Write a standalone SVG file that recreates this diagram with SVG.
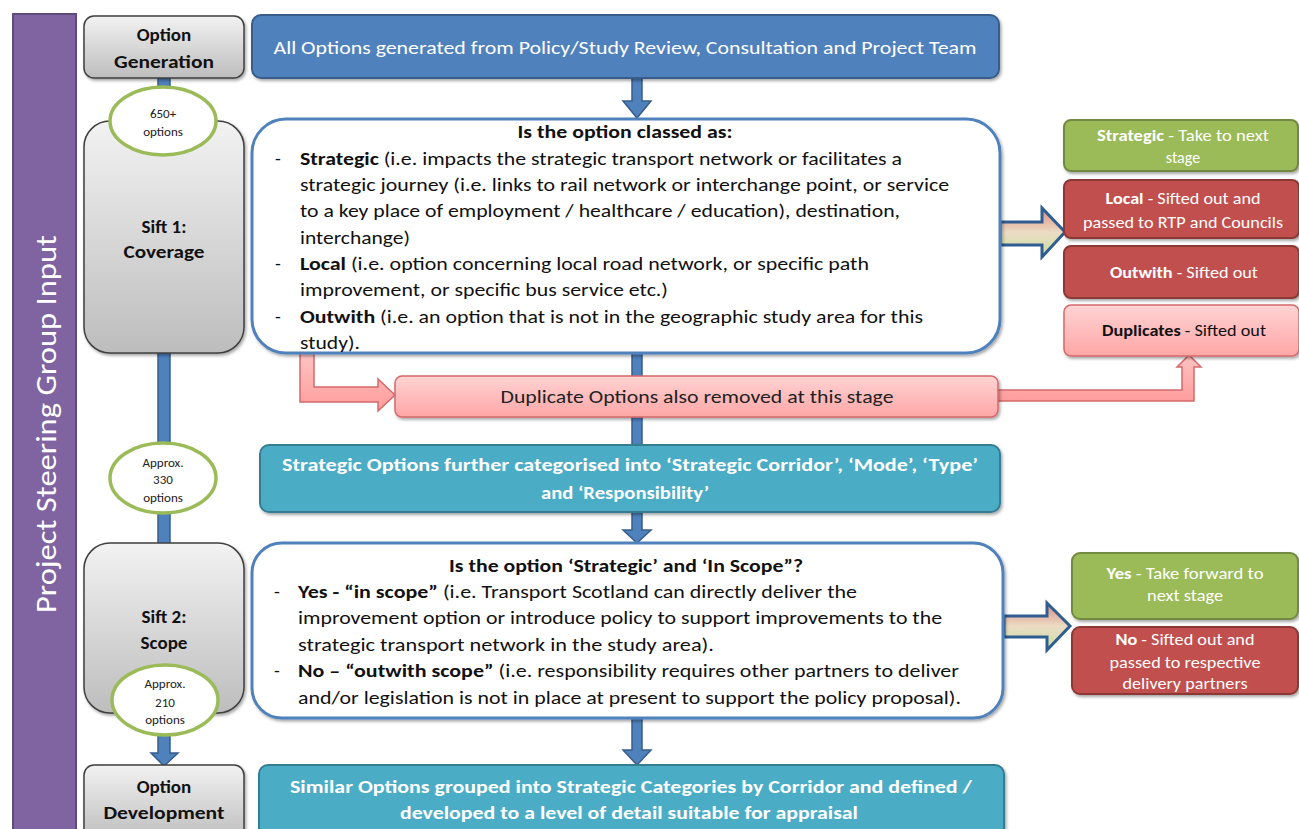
<svg xmlns="http://www.w3.org/2000/svg" width="1299" height="829" viewBox="0 0 1299 829">
<defs>
<linearGradient id="gGray" x1="0" y1="0" x2="0" y2="1"><stop offset="0" stop-color="#f2f2f2"/><stop offset="1" stop-color="#bdbdbd"/></linearGradient>
<linearGradient id="gPink" x1="0" y1="0" x2="0" y2="1"><stop offset="0" stop-color="#ffd3d3"/><stop offset="1" stop-color="#ffa6a6"/></linearGradient>
<linearGradient id="gPinkArrow" x1="0" y1="0" x2="0" y2="1"><stop offset="0" stop-color="#ffc4c4"/><stop offset="1" stop-color="#ff9c9c"/></linearGradient>
<linearGradient id="gFat" x1="0" y1="0" x2="0" y2="1"><stop offset="0" stop-color="#d98a82"/><stop offset="0.5" stop-color="#ecdcc4"/><stop offset="1" stop-color="#c7df9f"/></linearGradient>
<filter id="sh" x="-10%" y="-10%" width="120%" height="130%"><feDropShadow dx="1.5" dy="2" stdDeviation="1.5" flood-color="#000" flood-opacity="0.35"/></filter>
</defs>
<style>
text{font-family:Carlito,Lato,"Liberation Sans",sans-serif;}
.gray{fill:url(#gGray);stroke:#3f3f3f;stroke-width:1.5;filter:url(#sh);}
.lbl{font-size:19px;font-weight:bold;fill:#111;text-anchor:middle;}
.oval{fill:#fff;stroke:#9bbb59;stroke-width:3.5;}
.otxt{font-size:13px;fill:#222;text-anchor:middle;}
.main{fill:#fff;stroke:#4f81bd;stroke-width:3;filter:url(#sh);}
.mt{font-size:19px;fill:#111;}
.b{font-weight:bold;}
.blue{fill:#4f81bd;stroke:#385d8a;stroke-width:1.5;}
.teal{fill:#4bacc6;stroke:#357d91;stroke-width:2;filter:url(#sh);}
.tt{font-size:19px;font-weight:bold;fill:#fff;text-anchor:middle;}
.green{fill:#9bbb59;stroke:#71893f;stroke-width:2;filter:url(#sh);}
.red{fill:#c0504d;stroke:#8c3836;stroke-width:2;filter:url(#sh);}
.rt{font-size:16px;fill:#fff;text-anchor:middle;}
.fat{fill:url(#gFat);stroke:#2f5d8f;stroke-width:3;stroke-linejoin:miter;}
.pinkarrow{fill:url(#gPinkArrow);stroke:#d46a6a;stroke-width:1.5;}
</style>
<rect width="1299" height="829" fill="#fff"/>

<g id="steering">
<rect x="13" y="14" width="63" height="830" fill="#8064a2" stroke="#5f4b7a" stroke-width="2"/>
<text transform="translate(56,424) rotate(-90)" font-size="28" fill="#fff" text-anchor="middle" textLength="378" lengthAdjust="spacingAndGlyphs">Project Steering Group Input</text>
</g>

<g id="connectors">
<polygon class="blue" points="158,78 170,78 170,753 178,753 164,766 151,753 158,753"/>
<polygon class="blue" points="632,78 642,78 642,101 651,101 637,118 623,101 632,101"/>
<polygon class="blue" points="632,352 642,352 642,446 632,446"/>
<polygon class="blue" points="632,512 642,512 642,530 651,530 637,543 623,530 632,530"/>
<polygon class="blue" points="632,718 642,718 642,750 651,750 637,765 623,750 632,750"/>
<polygon class="fat" points="1000,222 1042,222 1042,208 1065,232 1042,257 1042,245 1000,245"/>
<polygon class="fat" points="1004,616 1047,616 1047,603 1070,626 1047,650 1047,637 1004,637"/>
<polygon class="pinkarrow" points="300,352 314,352 314,387 378,387 378,379 395,395 378,411 378,402 300,402"/>
<polygon class="pinkarrow" points="996,390 1182,390 1182,367 1177,367 1189,355 1201,367 1194,367 1194,401 996,401"/>
</g>

<g id="option-generation">
<rect class="gray" x="84" y="16" width="160" height="62" rx="10"/>
<text class="lbl" x="164" y="41">Option</text>
<text class="lbl" x="164" y="68" textLength="100" lengthAdjust="spacingAndGlyphs">Generation</text>
</g>

<g id="all-options">
<rect x="252" y="15" width="747" height="63" rx="9" fill="#4f81bd" stroke="#385d8a" stroke-width="2" filter="url(#sh)"/>
<text x="625" y="54" font-size="19" fill="#fff" text-anchor="middle" textLength="703" lengthAdjust="spacingAndGlyphs">All Options generated from Policy/Study Review, Consultation and Project Team</text>
</g>

<g id="sift1">
<rect class="gray" x="84" y="121" width="160" height="232" rx="26"/>
<text class="lbl" x="164" y="233">Sift 1:</text>
<text class="lbl" x="164" y="258" textLength="81" lengthAdjust="spacingAndGlyphs">Coverage</text>
</g>

<g id="count-650">
<ellipse class="oval" cx="163" cy="121" rx="53" ry="34"/>
<text class="otxt" x="163" y="117.5">650+</text>
<text class="otxt" x="163" y="135.5">options</text>
</g>

<g id="classification">
<rect class="main" x="252" y="119" width="748" height="234" rx="34"/>
<text class="mt b" x="625" y="138" text-anchor="middle" textLength="215" lengthAdjust="spacingAndGlyphs">Is the option classed as:</text>
<text class="mt" x="275" y="164.5">-</text>
<text class="mt" x="300" y="164.5" textLength="602" lengthAdjust="spacingAndGlyphs"><tspan class="b">Strategic</tspan> (i.e. impacts the strategic transport network or facilitates a</text>
<text class="mt" x="300" y="191" textLength="649" lengthAdjust="spacingAndGlyphs">strategic journey (i.e. links to rail network or interchange point, or service</text>
<text class="mt" x="300" y="217" textLength="600" lengthAdjust="spacingAndGlyphs">to a key place of employment / healthcare / education), destination,</text>
<text class="mt" x="300" y="243.5" textLength="110" lengthAdjust="spacingAndGlyphs">interchange)</text>
<text class="mt" x="275" y="270">-</text>
<text class="mt" x="300" y="270" textLength="569" lengthAdjust="spacingAndGlyphs"><tspan class="b">Local</tspan> (i.e. option concerning local road network, or specific path</text>
<text class="mt" x="300" y="296" textLength="368" lengthAdjust="spacingAndGlyphs">improvement, or specific bus service etc.)</text>
<text class="mt" x="275" y="322.5">-</text>
<text class="mt" x="300" y="322.5" textLength="623" lengthAdjust="spacingAndGlyphs"><tspan class="b">Outwith</tspan> (i.e. an option that is not in the geographic study area for this</text>
<text class="mt" x="300" y="349" textLength="60" lengthAdjust="spacingAndGlyphs">study).</text>
</g>

<g id="duplicate-options">
<rect x="395" y="376" width="603" height="41" rx="7" fill="url(#gPink)" stroke="#d46a6a" stroke-width="1.5" filter="url(#sh)"/>
<text x="697" y="403" font-size="19" fill="#222" text-anchor="middle" textLength="393" lengthAdjust="spacingAndGlyphs">Duplicate Options also removed at this stage</text>
</g>

<g id="out-strategic">
<rect class="green" x="1064" y="120" width="234" height="51" rx="7"/>
<text class="rt" x="1183" y="140.5" textLength="172" lengthAdjust="spacingAndGlyphs"><tspan class="b">Strategic</tspan> - Take to next</text>
<text class="rt" x="1183" y="162.5">stage</text>
</g>
<g id="out-local">
<rect class="red" x="1064" y="180" width="235" height="58" rx="7"/>
<text class="rt" x="1183" y="203.5" textLength="155" lengthAdjust="spacingAndGlyphs"><tspan class="b">Local</tspan> - Sifted out and</text>
<text class="rt" x="1183" y="227.5" textLength="200" lengthAdjust="spacingAndGlyphs">passed to RTP and Councils</text>
</g>
<g id="out-outwith">
<rect class="red" x="1064" y="246" width="235" height="52" rx="7"/>
<text class="rt" x="1184" y="277.5" textLength="148" lengthAdjust="spacingAndGlyphs"><tspan class="b">Outwith</tspan> - Sifted out</text>
</g>
<g id="out-duplicates">
<rect x="1064" y="305" width="235" height="51" rx="7" fill="url(#gPink)" stroke="#d46a6a" stroke-width="1.5" filter="url(#sh)"/>
<text class="rt" x="1184" y="335.5" fill="#111" style="fill:#111" textLength="164" lengthAdjust="spacingAndGlyphs"><tspan class="b">Duplicates</tspan> - Sifted out</text>
</g>

<g id="count-330">
<ellipse class="oval" cx="163" cy="478" rx="53" ry="35"/>
<text class="otxt" x="163" y="466.5">Approx.</text>
<text class="otxt" x="163" y="483.5">330</text>
<text class="otxt" x="163" y="501.5">options</text>
</g>

<g id="categorised">
<rect class="teal" x="260" y="445" width="740" height="67" rx="9"/>
<text class="tt" x="630" y="471" textLength="696" lengthAdjust="spacingAndGlyphs">Strategic Options further categorised into ‘Strategic Corridor’, ‘Mode’, ‘Type’</text>
<text class="tt" x="625" y="499" textLength="168" lengthAdjust="spacingAndGlyphs">and ‘Responsibility’</text>
</g>

<g id="sift2">
<rect class="gray" x="84" y="543" width="160" height="170" rx="26"/>
<text class="lbl" x="164" y="623">Sift 2:</text>
<text class="lbl" x="164" y="649">Scope</text>
</g>

<g id="count-210">
<ellipse class="oval" cx="165" cy="700" rx="53" ry="35"/>
<text class="otxt" x="165" y="687.5">Approx.</text>
<text class="otxt" x="165" y="706.5">210</text>
<text class="otxt" x="165" y="723.5">options</text>
</g>

<g id="scope">
<rect class="main" x="252" y="543" width="751" height="175" rx="30"/>
<text class="mt b" x="626" y="572" text-anchor="middle" textLength="354" lengthAdjust="spacingAndGlyphs">Is the option ‘Strategic’ and ‘In Scope”?</text>
<text class="mt" x="274" y="598">-</text>
<text class="mt" x="298" y="598" textLength="559" lengthAdjust="spacingAndGlyphs"><tspan class="b">Yes  - “in scope”</tspan> (i.e. Transport Scotland can directly deliver the</text>
<text class="mt" x="298" y="624" textLength="644" lengthAdjust="spacingAndGlyphs">improvement option or introduce policy to support improvements to the</text>
<text class="mt" x="298" y="651" textLength="416" lengthAdjust="spacingAndGlyphs">strategic transport network in the study area).</text>
<text class="mt" x="274" y="677">-</text>
<text class="mt" x="298" y="677" textLength="661" lengthAdjust="spacingAndGlyphs"><tspan class="b">No – “outwith scope”</tspan> (i.e. responsibility requires other partners to deliver</text>
<text class="mt" x="298" y="704" textLength="663" lengthAdjust="spacingAndGlyphs">and/or legislation is not in place at present to support the policy proposal).</text>
</g>

<g id="out-yes">
<rect class="green" x="1072" y="553" width="226" height="66" rx="8"/>
<text class="rt" x="1185" y="578.5" textLength="157" lengthAdjust="spacingAndGlyphs"><tspan class="b">Yes</tspan> - Take forward to</text>
<text class="rt" x="1185" y="600.5" textLength="76" lengthAdjust="spacingAndGlyphs">next stage</text>
</g>
<g id="out-no">
<rect class="red" x="1072" y="627" width="226" height="67" rx="8"/>
<text class="rt" x="1185" y="644.5" textLength="139" lengthAdjust="spacingAndGlyphs"><tspan class="b">No</tspan> - Sifted out and</text>
<text class="rt" x="1185" y="667.5" textLength="151" lengthAdjust="spacingAndGlyphs">passed to respective</text>
<text class="rt" x="1185" y="688.5" textLength="125" lengthAdjust="spacingAndGlyphs">delivery partners</text>
</g>

<g id="option-development">
<rect class="gray" x="84" y="765" width="160" height="75" rx="10"/>
<text class="lbl" x="164" y="793">Option</text>
<text class="lbl" x="164" y="819" textLength="121" lengthAdjust="spacingAndGlyphs">Development</text>
</g>

<g id="grouped">
<rect class="teal" x="259" y="765" width="745" height="75" rx="9"/>
<text class="tt" x="631" y="793" textLength="682" lengthAdjust="spacingAndGlyphs">Similar Options grouped into Strategic Categories by Corridor and defined /</text>
<text class="tt" x="629" y="819" textLength="458" lengthAdjust="spacingAndGlyphs">developed to a level of detail suitable for appraisal</text>
</g>
</svg>
